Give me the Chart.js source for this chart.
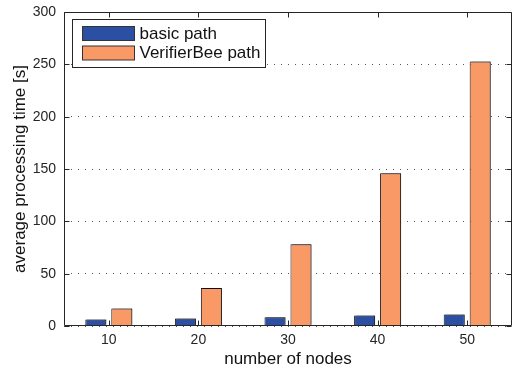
<!DOCTYPE html>
<html>
<head>
<meta charset="utf-8">
<script src="https://cdn.jsdelivr.net/npm/chart.js@4/dist/chart.umd.min.js"></script>
<style>
  html, body { margin: 0; padding: 0; background: #fff; }
  #wrap { width: 514px; height: 370px; }
</style>
</head>
<body>
<div id="wrap"><canvas id="c" width="514" height="370"></canvas></div>
<script>
// Node counts on the x axis
const nodeCounts = ['10', '20', '30', '40', '50'];
// Average processing time in seconds
const basicPath = [6.2, 7.2, 8.4, 10, 11];
const verifierBeePath = [16.8, 36.2, 78, 146, 252.6];
// Y axis tick values
const yTicks = [0, 50, 100, 150, 200, 250, 300];

const FONT = 'Liberation Sans, Arial, Helvetica, sans-serif';
const INK = '#262626';

// Boxed legend drawn inside the top-left of the plot area
const boxLegend = {
  id: 'boxLegend',
  afterDraw(chart) {
    const ctx = chart.ctx;
    const a = chart.chartArea;
    const x0 = Math.round(a.left) + 8.5, y0 = Math.round(a.top) + 7.5, w = 193, h = 48;
    ctx.save();
    ctx.fillStyle = '#fff';
    ctx.fillRect(x0, y0, w, h);
    ctx.strokeStyle = INK;
    ctx.lineWidth = 1;
    ctx.strokeRect(x0, y0, w, h);
    ctx.font = '17px ' + FONT;
    ctx.textBaseline = 'middle';
    chart.data.datasets.forEach((ds, i) => {
      const sy = y0 + 7 + i * 19.5;
      ctx.fillStyle = ds.backgroundColor;
      ctx.fillRect(x0 + 10, sy, 52, 14);
      ctx.strokeStyle = '#333';
      ctx.strokeRect(x0 + 10, sy, 52, 14);
      ctx.fillStyle = '#111';
      ctx.fillText(ds.label, x0 + 67, sy + 7.5);
    });
    ctx.restore();
  }
};

// Subtle grey edge behind the bars
const barShade = {
  id: 'barShade',
  beforeDatasetsDraw(chart) {
    const ctx = chart.ctx;
    ctx.save();
    ctx.shadowColor = 'rgba(0,0,0,0.35)';
    ctx.shadowOffsetX = 1.5;
    ctx.shadowOffsetY = -1;
    ctx.shadowBlur = 0;
  },
  afterDatasetsDraw(chart) {
    chart.ctx.restore();
  }
};

// Axes box with inward tick marks on all four sides
const frameBox = {
  id: 'frameBox',
  afterDatasetsDraw(chart) {
    const ctx = chart.ctx;
    const a = chart.chartArea;
    const xs = chart.scales.x, ys = chart.scales.y;
    const L = Math.round(a.left) + 0.5, R = Math.round(a.right) - 0.5;
    const T = Math.round(a.top) + 0.5, B = Math.round(a.bottom) - 0.5;
    ctx.save();
    ctx.strokeStyle = INK;
    ctx.lineWidth = 1;
    ctx.beginPath();
    ctx.rect(L, T, R - L, B - T);
    nodeCounts.forEach((_, i) => {
      const x = Math.round(xs.getPixelForValue(i)) + 0.5;
      ctx.moveTo(x, B); ctx.lineTo(x, B - 5);
      ctx.moveTo(x, T); ctx.lineTo(x, T + 5);
    });
    yTicks.forEach(v => {
      const y = Math.round(ys.getPixelForValue(v)) + 0.5;
      ctx.moveTo(L, y); ctx.lineTo(L + 5, y);
      ctx.moveTo(R, y); ctx.lineTo(R - 5, y);
    });
    ctx.stroke();
    ctx.restore();
  }
};

new Chart(document.getElementById('c'), {
  type: 'bar',
  data: {
    labels: nodeCounts,
    datasets: [
      {
        label: 'basic path',
        data: basicPath,
        backgroundColor: '#2B4FA2',
        borderColor: '#1a1a1a',
        borderWidth: 1,
        categoryPercentage: 0.58,
        barPercentage: 0.81
      },
      {
        label: 'VerifierBee path',
        data: verifierBeePath,
        backgroundColor: '#F99966',
        borderColor: '#1a1a1a',
        borderWidth: 1,
        categoryPercentage: 0.58,
        barPercentage: 0.81
      }
    ]
  },
  options: {
    responsive: false,
    animation: false,
    devicePixelRatio: 1,
    layout: { padding: { left: 0, right: 2, top: 12, bottom: 0 } },
    plugins: { legend: { display: false }, tooltip: { enabled: false } },
    scales: {
      x: {
        type: 'category',
        offset: true,
        grid: { display: false, drawTicks: false },
        border: { display: false },
        ticks: { color: INK, font: { family: FONT, size: 14 }, padding: 6, maxRotation: 0 },
        title: { display: true, text: 'number of nodes', color: '#111',
                 font: { family: FONT, size: 17 }, padding: { top: 8, bottom: 0 } },
        afterFit(scale) {
          scale.height = 44;
          scale.paddingLeft = 0;
          scale.paddingRight = 0;
        }
      },
      y: {
        min: 0,
        max: 300,
        afterBuildTicks(scale) { scale.ticks = yTicks.map(v => ({ value: v })); },
        grid: {
          color: '#555',
          lineWidth: 1,
          drawTicks: false
        },
        border: { display: false, dash: [1, 6] },
        ticks: { color: INK, font: { family: FONT, size: 14 }, padding: 8 },
        title: { display: true, text: 'average processing time [s]', color: '#111',
                 font: { family: FONT, size: 17 }, padding: { top: 10, bottom: 0 } },
        afterFit(scale) {
          scale.width = 64;
          scale.paddingTop = 0;
          scale.paddingBottom = 0;
        }
      }
    }
  },
  plugins: [barShade, frameBox, boxLegend]
});
</script>
</body>
</html>
